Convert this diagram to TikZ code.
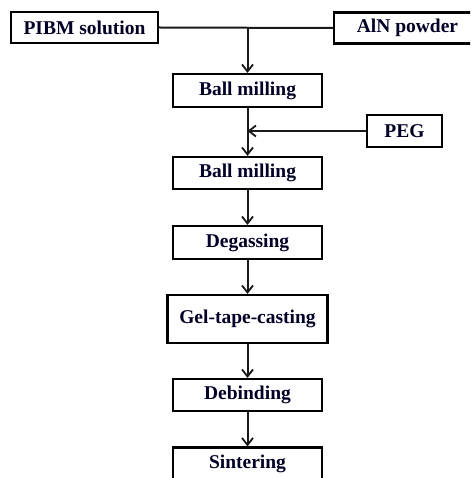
\documentclass[tikz,border=0pt]{standalone}
\usepackage{fontspec}
\setmainfont{Liberation Serif}
\usetikzlibrary{arrows.meta}
\begin{document}
\begin{tikzpicture}[x=1pt,y=-1pt,
  box/.style={draw=black,line width=2.2pt,fill=white,inner sep=0pt,
    font=\fontsize{19.5}{22}\selectfont\bfseries,text=black!85!blue},
  conn/.style={line width=2pt,draw=black!90},
  arr/.style={conn,-{Straight Barb[length=7pt,width=11pt,line width=1.8pt]}}]
\useasboundingbox (0,0) rectangle (470,478);
\clip (0,0) rectangle (470,478);
\fill[white] (0,0) rectangle (470,478);
\node[box,minimum width=147pt,minimum height=31pt] (pibm) at (84.5,27.5) {PIBM solution};
\node[box,minimum width=147pt,minimum height=31pt] (aln) at (407.5,28) {AlN powder};
\node[box,minimum width=149pt,minimum height=33pt] (bm1) at (247.5,90.5) {Ball milling};
\node[box,minimum width=75pt,minimum height=32pt] (peg) at (404.5,131) {PEG};
\node[box,minimum width=149pt,minimum height=32pt] (bm2) at (247.5,173) {Ball milling};
\node[box,minimum width=149pt,minimum height=33pt] (deg) at (247.5,242.5) {Degassing};
\node[box,minimum width=160pt,minimum height=48pt] (gel) at (247.5,319) {Gel-tape-casting};
\node[box,minimum width=149pt,minimum height=32pt] (deb) at (247.5,395) {Debinding};
\node[box,minimum width=149pt,minimum height=33pt] (sin) at (247.5,464) {Sintering};
\draw[conn] (pibm.east) -- (aln.west);
\draw[arr] (pibm.east -| bm1.north) -- (bm1.north);
\draw[arr] (bm1.south) -- (bm2.north);
\draw[arr] (peg.west) -- (peg.west -| bm1.south);
\draw[arr] (bm2.south) -- (deg.north);
\draw[arr] (deg.south) -- (gel.north);
\draw[arr] (gel.south) -- (deb.north);
\draw[arr] (deb.south) -- (sin.north);
\end{tikzpicture}
\end{document}
